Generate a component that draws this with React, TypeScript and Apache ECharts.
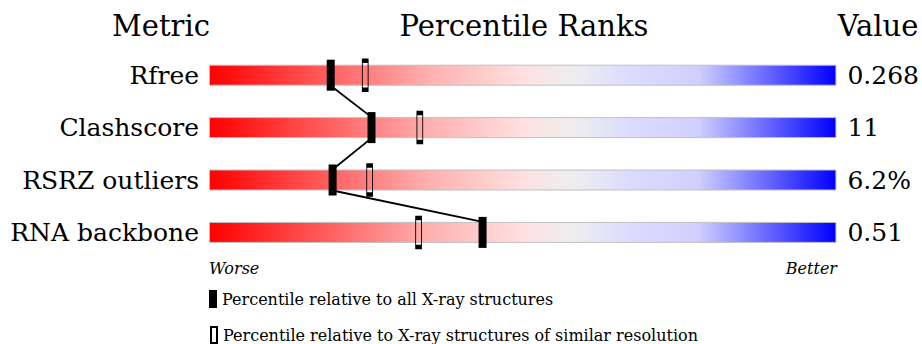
import React, { useEffect, useRef } from "react";
import * as echarts from "echarts";

const metrics = ["Rfree", "Clashscore", "RSRZ outliers", "RNA backbone"];
const valueLabels = ["0.268", "11", "6.2%", "0.51"];
const pctAll = [19.4, 25.9, 19.7, 43.6];
const pctSimilar = [24.9, 33.6, 25.6, 33.4];
const barFull = [100, 100, 100, 100];
const legendAll = "Percentile relative to all X-ray structures";
const legendSimilar = "Percentile relative to X-ray structures of similar resolution";

const FONT = "DejaVu Serif";
const BAR_H = 21;

export default function App() {
  const ref = useRef<HTMLDivElement>(null);
  useEffect(() => {
    document.body.style.margin = "0";
    const chart = echarts.init(ref.current!, null, { renderer: "svg" });
    const grad = new echarts.graphic.LinearGradient(0, 0, 1, 0, [
      { offset: 0, color: "#ff0000" },
      { offset: 0.35, color: "#ffb0b0" },
      { offset: 0.5, color: "#ffe0e0" },
      { offset: 0.58, color: "#eeeeee" },
      { offset: 0.67, color: "#dcdcff" },
      { offset: 0.78, color: "#d0d0ff" },
      { offset: 1, color: "#0000ff" },
    ]);
    const connectors = pctAll.slice(0, -1).map((v, i) => [v, i, pctAll[i + 1], i + 1]);
    const legendText = { fontSize: 16, color: "#000", fontFamily: FONT };
    chart.setOption({
      animation: false,
      textStyle: { fontFamily: FONT },
      grid: { left: 209, right: 85, top: 49, height: 209.6 },
      xAxis: { type: "value", min: 0, max: 100, show: false },
      yAxis: [
        {
          type: "category",
          data: metrics,
          inverse: true,
          axisLine: { show: false },
          axisTick: { show: false },
          splitLine: { show: false },
          axisLabel: { fontSize: 25, color: "#000", fontFamily: FONT, margin: 10 },
        },
        {
          type: "category",
          data: valueLabels,
          inverse: true,
          position: "right",
          axisLine: { show: false },
          axisTick: { show: false },
          splitLine: { show: false },
          axisLabel: { fontSize: 25, color: "#000", fontFamily: FONT, margin: 11, align: "left" },
        },
      ],
      legend: [
        {
          orient: "vertical",
          left: 209,
          top: 290,
          padding: 0,
          itemWidth: 8,
          itemHeight: 18,
          itemGap: 4,
          textStyle: { ...legendText },
          data: [{ name: legendAll, icon: "rect", itemStyle: { color: "#000", borderWidth: 0 } }],
        },
        {
          orient: "vertical",
          left: 210,
          top: 326,
          padding: 0,
          itemWidth: 6,
          itemHeight: 16,
          itemGap: 4,
          textStyle: { ...legendText, padding: [0, 0, 0, 1] },
          data: [
            {
              name: legendSimilar,
              icon: "rect",
              itemStyle: { color: "rgba(0,0,0,0)", borderColor: "#000", borderWidth: 2 },
            },
          ],
        },
      ],
      graphic: [
        { type: "text", x: 161, y: 26, style: { text: "Metric", font: `29px '${FONT}'`, fill: "#000", textAlign: "center", textVerticalAlign: "middle" } },
        { type: "text", x: 524, y: 26, style: { text: "Percentile Ranks", font: `29px '${FONT}'`, fill: "#000", textAlign: "center", textVerticalAlign: "middle" } },
        { type: "text", x: 878, y: 26, style: { text: "Value", font: `29px '${FONT}'`, fill: "#000", textAlign: "center", textVerticalAlign: "middle" } },
        { type: "text", x: 209, y: 268, style: { text: "Worse", font: `italic 16px '${FONT}'`, fill: "#000", textAlign: "left", textVerticalAlign: "middle" } },
        { type: "text", x: 837, y: 268, style: { text: "Better", font: `italic 16px '${FONT}'`, fill: "#000", textAlign: "right", textVerticalAlign: "middle" } },
      ],
      series: [
        {
          type: "bar",
          data: barFull,
          barWidth: BAR_H,
          z: 1,
          silent: true,
          itemStyle: { color: grad, borderColor: "#c0c0c0", borderWidth: 1 },
        },
        {
          type: "custom",
          z: 2,
          silent: true,
          data: connectors,
          renderItem: (params: any, api: any) => {
            const p1 = api.coord([api.value(0), api.value(1)]);
            const p2 = api.coord([api.value(2), api.value(3)]);
            return {
              type: "line",
              shape: { x1: p1[0], y1: p1[1] + BAR_H / 2, x2: p2[0], y2: p2[1] - BAR_H / 2 },
              style: { stroke: "#000", lineWidth: 1.8 },
            };
          },
        },
        {
          type: "scatter",
          name: legendSimilar,
          z: 3,
          symbol: "rect",
          symbolSize: [5.8, 29],
          data: pctSimilar.map((v, i) => [v, i]),
          itemStyle: { color: "rgba(0,0,0,0)", borderColor: "#000", borderWidth: 2, opacity: 1 },
        },
        {
          type: "scatter",
          name: legendAll,
          z: 4,
          symbol: "rect",
          symbolSize: [8, 31],
          data: pctAll.map((v, i) => [v, i]),
          itemStyle: { color: "#000", opacity: 1 },
        },
      ],
    });
    return () => chart.dispose();
  }, []);
  return <div ref={ref} style={{ width: 922, height: 344 }} />;
}
